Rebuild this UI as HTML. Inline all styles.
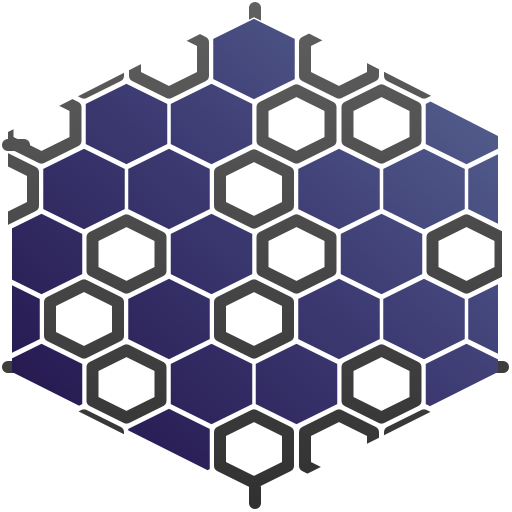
<!DOCTYPE html>
<html><head><meta charset="utf-8">
<style>html,body{margin:0;padding:0;background:#fff;overflow:hidden;width:512px;height:512px;}svg{display:block;}</style>
</head><body>
<svg id="chart" width="512" height="512" viewBox="0 0 512 512" xmlns="http://www.w3.org/2000/svg">
<defs>
<linearGradient id="fillGrad" gradientUnits="userSpaceOnUse" x1="470" y1="40" x2="60" y2="480">
<stop offset="0" stop-color="#55628f"/><stop offset="0.45" stop-color="#3d3b73"/><stop offset="1" stop-color="#23154c"/>
</linearGradient>
<linearGradient id="lineGrad" gradientUnits="userSpaceOnUse" x1="0" y1="0" x2="0" y2="512">
<stop offset="0" stop-color="#606060"/><stop offset="1" stop-color="#303030"/>
</linearGradient>
<clipPath id="bigHex"><polygon points="255,12 498,136 498,372 255,494 12,372 12,136"/></clipPath>
<clipPath id="bigHexO"><polygon points="255,6 502,132 502,376 255,500 8,376 8,132"/></clipPath>
</defs>
<g id="stubs" stroke="url(#lineGrad)" stroke-width="12" stroke-linecap="round">
<line x1="255" y1="8" x2="255" y2="24"/>
<line x1="255" y1="488" x2="255" y2="503"/>
<line x1="8" y1="145" x2="24" y2="145"/>
<line x1="8" y1="367" x2="24" y2="367"/>
<line x1="488" y1="367" x2="503" y2="367"/>
</g>
<g id="outlines" clip-path="url(#bigHexO)"></g>
<g id="fills" clip-path="url(#bigHex)"></g>
</svg>
<script>
// filled hex cells: row index and column index (column k, x = 41.5 + 42.5*k)
const filledRows = [0, 1, 1, 1, 2, 2, 2, 2, 2, 3, 3, 3, 4, 4, 4, 4, 4, 5, 5, 5, 5, 6];
const filledCols = [5, 2, 4, 10, 1, 3, 7, 9, 11, 0, 4, 8, -1, 3, 7, 9, 11, 0, 4, 6, 10, 3];

const NS = 'http://www.w3.org/2000/svg';
function cx(k) { return 41.5 + 42.5 * k; }
function cy(r) { return 59 + 65 * r; }
function hexPts(x, y, s) {
  const w = 41.5 * s, t = 41 * s, m = 20.5 * s;
  return [[x, y - t], [x + w, y - m], [x + w, y + m], [x, y + t], [x - w, y + m], [x - w, y - m]]
    .map(p => p[0].toFixed(1) + ',' + p[1].toFixed(1)).join(' ');
}
const filledSet = new Set(filledRows.map((r, i) => r + ':' + filledCols[i]));
const og = document.getElementById('outlines');
for (let r = 0; r <= 6; r++) {
  for (let k = -1; k <= 11; k++) {
    if (((r + k) % 2 + 2) % 2 !== 1) continue;
    if (filledSet.has(r + ':' + k)) continue;
    const p = document.createElementNS(NS, 'polygon');
    p.setAttribute('points', hexPts(cx(k), cy(r), 0.82));
    p.setAttribute('fill', 'none');
    p.setAttribute('stroke', 'url(#lineGrad)');
    p.setAttribute('stroke-width', '12');
    p.setAttribute('stroke-linejoin', 'round');
    
    
    og.appendChild(p);
  }
}
const fg = document.getElementById('fills');
for (let i = 0; i < filledRows.length; i++) {
  const p = document.createElementNS(NS, 'polygon');
  p.setAttribute('points', hexPts(cx(filledCols[i]), cy(filledRows[i]), 1));
  p.setAttribute('fill', 'url(#fillGrad)');
  p.setAttribute('stroke', '#fff');
  p.setAttribute('stroke-width', '1.5');
  p.setAttribute('stroke-linejoin', 'round');
  
  
  fg.appendChild(p);
}
</script>
</body></html>
